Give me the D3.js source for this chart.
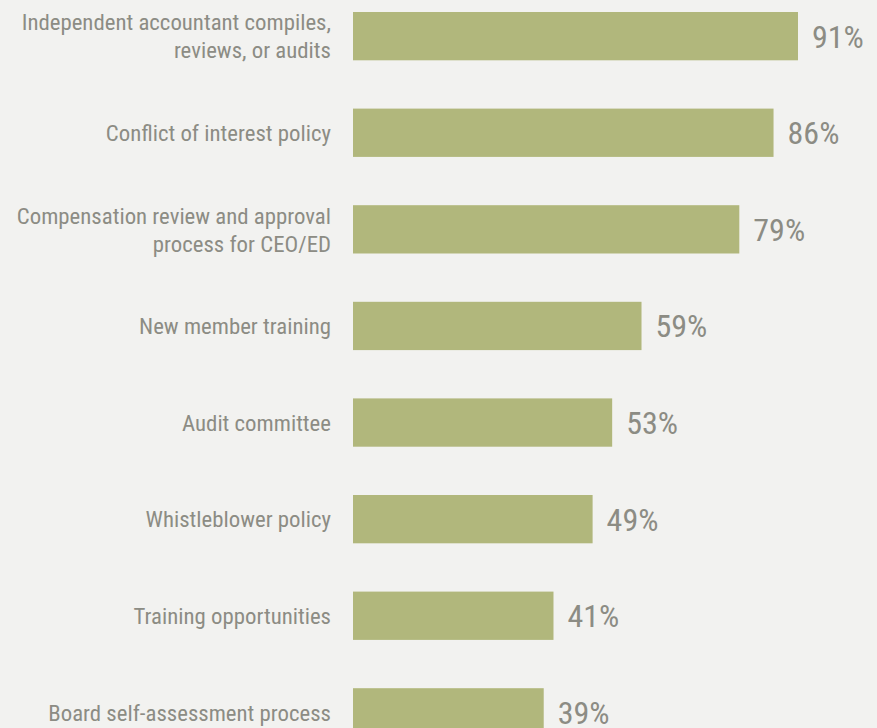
<!DOCTYPE html>
<html><head><meta charset="utf-8">
<script src="https://cdn.jsdelivr.net/npm/d3@7"></script>
<style>
html,body{margin:0;padding:0;background:#f2f2f0;}
svg{display:block;}
text{font-family:"Roboto Condensed","Liberation Sans Narrow","Arial Narrow",Roboto,sans-serif;}
</style></head><body>
<svg id="c" width="877" height="728"></svg>
<script>
const categories = [
  ["Independent accountant compiles,", "reviews, or audits"],
  ["Conflict of interest policy"],
  ["Compensation review and approval", "process for CEO/ED"],
  ["New member training"],
  ["Audit committee"],
  ["Whistleblower policy"],
  ["Training opportunities"],
  ["Board self-assessment process"]
];
const values = [91, 86, 79, 59, 53, 49, 41, 39];
const valueLabels = ["91%", "86%", "79%", "59%", "53%", "49%", "41%", "39%"];

const svg = d3.select("#c");
const ids = d3.range(categories.length);
const step = 96.6;
const y = d3.scaleBand().domain(ids).range([12 - step*0.25, 12 - step*0.25 + step*8]).paddingInner(0.5).paddingOuter(0.25);
const x = d3.scaleLinear().domain([0, 100]).range([353, 842]);

svg.append("rect").attr("width",877).attr("height",728).attr("fill","#f2f2f0");

svg.selectAll("rect.bar").data(ids).join("rect").attr("class","bar")
  .attr("x", x(0)).attr("y", i => y(i)).attr("width", i => x(values[i]) - x(0))
  .attr("height", y.bandwidth()).attr("fill", "#b1b77c");

const lab = svg.selectAll("g.lab").data(ids).join("g").attr("class","lab")
  .attr("transform", i => `translate(331,${y(i)+y.bandwidth()/2})`);
lab.each(function(i){
  const lines = categories[i];
  const g = d3.select(this);
  lines.forEach((t, k) => {
    const dy = (k - (lines.length-1)/2) * 28;
    g.append("text").attr("x",0).attr("y",dy).attr("dy","0.36em")
      .attr("text-anchor","end").attr("font-size",22.8).attr("fill","#8c8c84").text(t);
  });
});

svg.selectAll("text.val").data(ids).join("text").attr("class","val")
  .attr("x", i => x(values[i]) + 14).attr("y", i => y(i)+y.bandwidth()/2).attr("dy","0.36em")
  .attr("font-size",32).attr("fill","#8c8c84").text(i => valueLabels[i]);
</script>
</body></html>
